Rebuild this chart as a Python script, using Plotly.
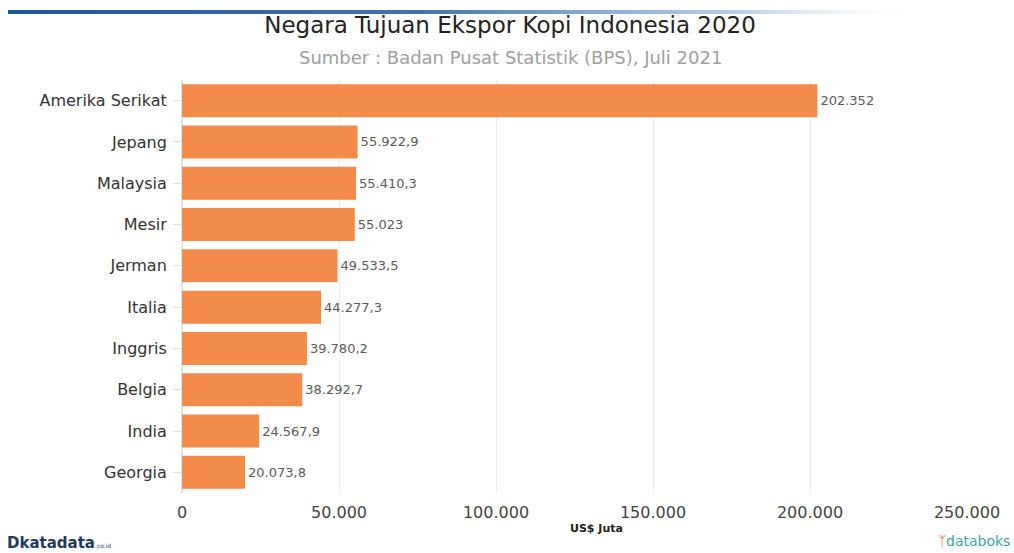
import base64
import plotly.graph_objects as go

countries = ["Amerika Serikat", "Jepang", "Malaysia", "Mesir", "Jerman",
             "Italia", "Inggris", "Belgia", "India", "Georgia"]
values = [202352, 55922.9, 55410.3, 55023, 49533.5,
          44277.3, 39780.2, 38292.7, 24567.9, 20073.8]
tick_vals = [0, 50000, 100000, 150000, 200000, 250000]
tick_text = ["0", "50.000", "100.000", "150.000", "200.000", "250.000"]


def fmt_id(v):
    if abs(v - round(v)) < 1e-9:
        return f"{int(round(v)):,}".replace(",", ".")
    s = f"{v:,.1f}"
    return s.replace(",", "X").replace(".", ",").replace("X", ".")


labels = [fmt_id(v) for v in values]

L, R, T, B = 182, 47, 80, 60
W, H = 1014, 553
PW, PH = W - L - R, H - T - B


def px(x):
    return (x - L) / PW


def py(y):
    return (H - B - y) / PH


fig = go.Figure(go.Bar(
    x=values, y=countries, orientation="h",
    marker=dict(color="#F38B4B", line=dict(width=0)),
    text=labels, textposition="outside", cliponaxis=False,
    textfont=dict(family="DejaVu Sans", size=13, color="#5A5A5A"),
    width=0.8,
))

fig.update_layout(
    width=W, height=H,
    margin=dict(l=L, r=R, t=T, b=B),
    paper_bgcolor="white", plot_bgcolor="white",
    showlegend=False,
    title=dict(text="Negara Tujuan Ekspor Kopi Indonesia 2020",
               x=0.503, xanchor="center", xref="container", y=0.955, yanchor="middle",
               font=dict(family="DejaVu Sans", size=23, color="#222222")),
    xaxis=dict(range=[0, 250000], tickvals=tick_vals, ticktext=tick_text,
               showgrid=True, gridcolor="#EDEDED", gridwidth=1,
               zeroline=True, zerolinecolor="#E3E3E3",
               showline=False, ticks="", ticklabelstandoff=8,
               tickfont=dict(family="DejaVu Sans", size=16, color="#444444")),
    yaxis=dict(autorange="reversed", showgrid=False, ticks="outside",
               ticklen=8, tickcolor="#DDDDDD", showline=False,
               ticklabelstandoff=3,
               tickfont=dict(family="DejaVu Sans", size=16, color="#333333")),
)

fig.add_annotation(text="Sumber : Badan Pusat Statistik (BPS), Juli 2021",
                   xref="paper", yref="paper", x=px(510), y=py(57),
                   xanchor="center", yanchor="middle", showarrow=False,
                   font=dict(family="DejaVu Sans", size=18, color="#A0A0A0"))

fig.add_annotation(text="<b>US$ Juta</b>",
                   xref="paper", yref="paper", x=px(596), y=py(528),
                   xanchor="center", yanchor="middle", showarrow=False,
                   font=dict(family="DejaVu Sans", size=11, color="#222222"))

# top decorative gradient line (embedded SVG image)
svg = ("<svg xmlns='http://www.w3.org/2000/svg' width='920' height='4'>"
       "<defs><linearGradient id='g' x1='0' x2='1' y1='0' y2='0'>"
       "<stop offset='0' stop-color='#1C5896' stop-opacity='1'/>"
       "<stop offset='0.45' stop-color='#2A66A3' stop-opacity='0.9'/>"
       "<stop offset='0.8' stop-color='#6A96C4' stop-opacity='0.45'/>"
       "<stop offset='1' stop-color='#FFFFFF' stop-opacity='0'/>"
       "</linearGradient></defs>"
       "<rect x='0' y='0' width='920' height='4' fill='url(#g)'/></svg>")
src = "data:image/svg+xml;base64," + base64.b64encode(svg.encode()).decode()
fig.add_layout_image(source=src, xref="paper", yref="paper",
                     x=px(8), y=py(10), sizex=920 / PW, sizey=4 / PH,
                     xanchor="left", yanchor="top", sizing="stretch", layer="above")

fig.add_annotation(text="<b>D</b><b>katadata</b><span style='font-size:6px'>.co.id</span>",
                   xref="paper", yref="paper", x=px(5), y=py(543),
                   xanchor="left", yanchor="middle", showarrow=False,
                   font=dict(family="DejaVu Sans", size=15, color="#1F3A5F"))
fig.add_annotation(text="<span style='color:#E8623A'>ᛉ</span>databoks",
                   xref="paper", yref="paper", x=px(1012), y=py(541),
                   xanchor="right", yanchor="middle", showarrow=False,
                   font=dict(family="DejaVu Sans", size=14, color="#3AA6A0"))

fig.write_html("out.html")
